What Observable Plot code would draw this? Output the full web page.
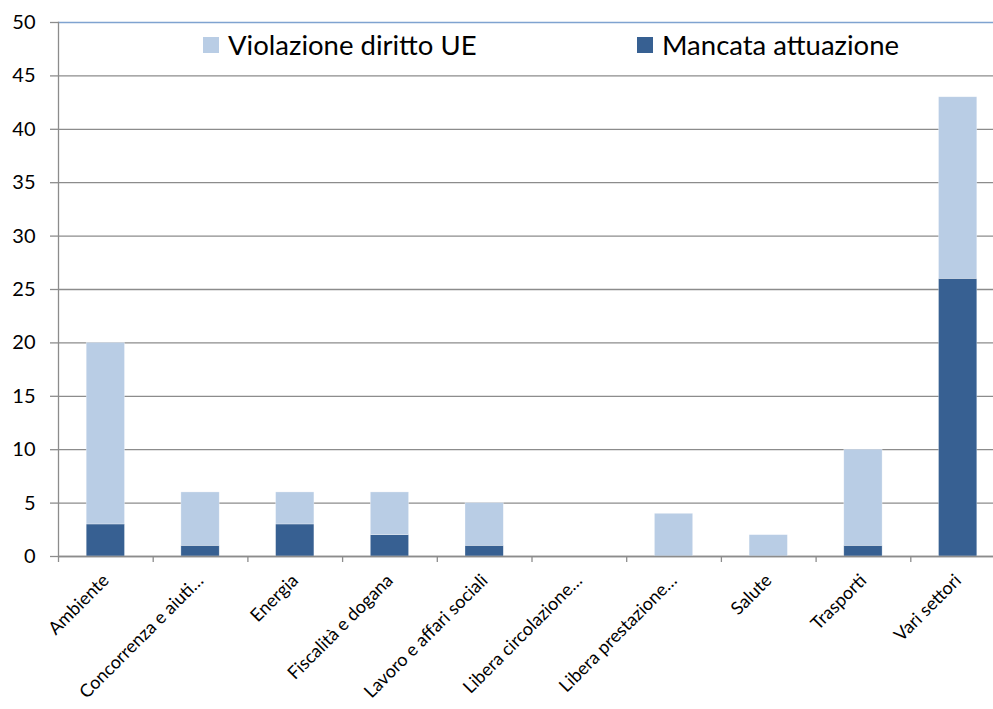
<!DOCTYPE html>
<html><head><meta charset="utf-8">
<script src="https://cdn.jsdelivr.net/npm/d3@7"></script>
<script src="https://cdn.jsdelivr.net/npm/@observablehq/plot@0.6"></script>
<style>
html,body{margin:0;padding:0;background:#fff;}
#chart{position:relative;width:993px;height:709px;font-family:Lato,"Open Sans",sans-serif;overflow:hidden;}
.leg{position:absolute;display:flex;align-items:center;font-size:27.5px;line-height:32px;height:32px;color:#000;white-space:nowrap;}
.sw{width:16px;height:16px;margin-right:9px;}
</style></head><body><div id="chart"></div>
<script>
const categories = ["Ambiente","Concorrenza e aiuti…","Energia","Fiscalità e dogana","Lavoro e affari sociali","Libera circolazione…","Libera prestazione…","Salute","Trasporti","Vari settori"];
const mancataAttuazione = [3,1,3,2,1,0,0,0,1,26];
const violazioneDiritto = [17,5,3,4,4,0,4,2,9,17];
const seriesNames = ["Violazione diritto UE","Mancata attuazione"];
const seriesColors = ["#b9cde5","#376092"];
const yTicks = [0,5,10,15,20,25,30,35,40,45,50];

const data = [];
categories.forEach((c,i)=>{
  data.push({cat:c, series:seriesNames[1], value:mancataAttuazione[i]});
  data.push({cat:c, series:seriesNames[0], value:violazioneDiritto[i]});
});

const xRange = [58, 1005];
const step = (xRange[1]-xRange[0])/categories.length;

const plot = Plot.plot({
  width: 993, height: 709,
  marginTop: 22, marginBottom: 153, marginLeft: 58, marginRight: 0,
  style: {fontFamily: "Lato, 'Open Sans', sans-serif", background: "#fff", color: "#000", overflow: "hidden"},
  x: {domain: categories, range: xRange, padding: 0, round: false, label: null},
  y: {domain: [0,50], label: null},
  color: {domain: seriesNames, range: seriesColors},
  marks: [
    Plot.gridY(yTicks.filter(t => t < 50), {stroke: "#8c8c8c", strokeOpacity: 1, strokeWidth: 1.3}),
    Plot.ruleY([50], {stroke: "#7fa3d0", strokeWidth: 1.3}),
    Plot.barY(data, Plot.stackY({x: "cat", y: "value", fill: "series", insetLeft: 28.2, insetRight: 28.2, stroke: "#fff", strokeOpacity: 0.5, strokeWidth: 0.6})),
    Plot.ruleY([0], {stroke: "#8c8c8c", strokeWidth: 1.3}),
    Plot.frame({anchor: "left", stroke: "#8c8c8c", strokeWidth: 1.3}),
    Plot.axisY(yTicks, {tickSize: 8, tickPadding: 15, fontSize: 20, stroke: "#8c8c8c", fill: "#000", strokeWidth: 1.3}),
    Plot.axisX({tickSize: 6, dx: -step/2, stroke: "#8c8c8c", fill: "none", strokeWidth: 1.3}),
    Plot.axisX({tickSize: 0, tickPadding: 21, tickRotate: -45, fontSize: 18, fill: "#000"})
  ]
});
const chart = document.getElementById("chart");
chart.appendChild(plot);

const legPos = [[203, 29], [637, 29]];
seriesNames.forEach((s, i) => {
  const d = document.createElement("div");
  d.className = "leg";
  d.style.left = legPos[i][0] + "px";
  d.style.top = legPos[i][1] + "px";
  d.innerHTML = `<span class="sw" style="background:${seriesColors[i]}"></span><span>${s}</span>`;
  chart.appendChild(d);
});
</script>
</body></html>
